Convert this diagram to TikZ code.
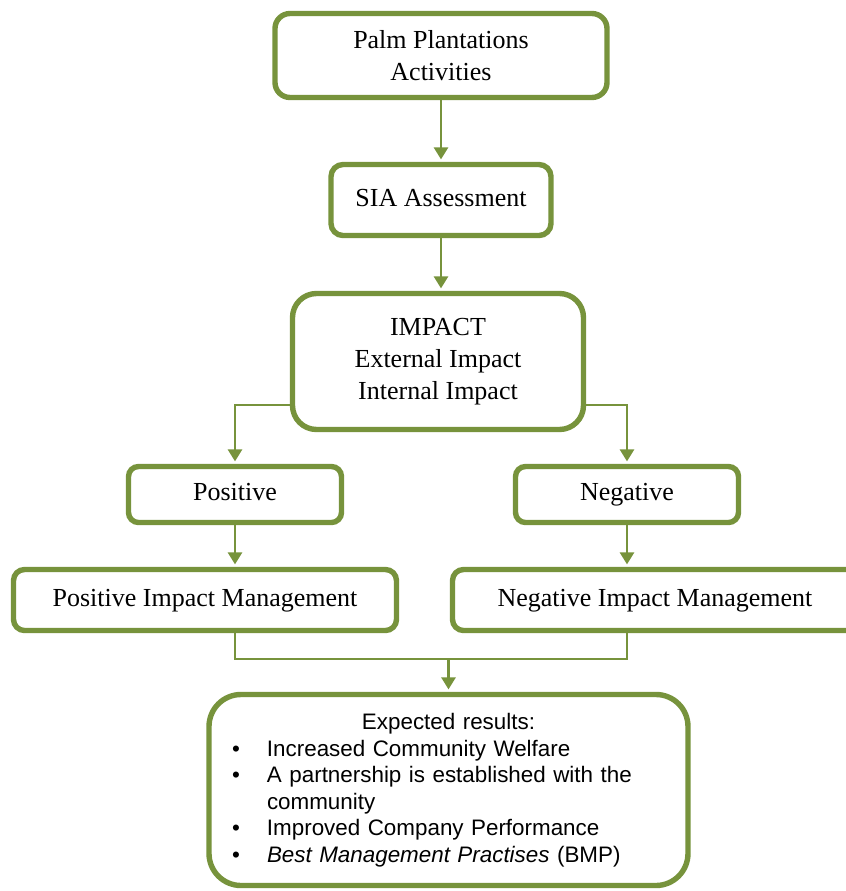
\documentclass[tikz,border=0pt]{standalone}
\usepackage{fontspec}
\setmainfont{Liberation Serif}
\newfontfamily\arialfont{Liberation Sans}
\usetikzlibrary{positioning,arrows.meta,calc}
\definecolor{palmgreen}{HTML}{77933C}
\newcommand{\resitem}[1]{\par\hangindent=17.5pt\hangafter=1\noindent
  \makebox[17.5pt][l]{\textbullet}#1}
\tikzset{
  actbox/.style={draw=palmgreen, line width=2.7pt, rounded corners=6pt,
    fill=white, align=center, inner sep=0pt,
    font=\fontsize{13}{16}\selectfont},
  linebox/.style={actbox, text height=9pt, text depth=3pt},
  resbox/.style={actbox, rounded corners=16pt, text width=216.5pt,
    inner xsep=11.5pt, align=left,
    font=\arialfont\fontsize{11.2}{13.25}\selectfont},
  link/.style={-{Triangle[length=6pt, width=7pt]}, draw=palmgreen,
    line width=1.3pt, shorten >=1.2pt},
  wire/.style={draw=palmgreen, line width=1.3pt},
}

\begin{document}
\begin{tikzpicture}[x=0.5pt, y=-0.5pt]
\useasboundingbox (0,0) rectangle (846,891);
\clip (0,0) rectangle (846,891);
% --- activities and assessment ---
\node[actbox, rounded corners=7.5pt, minimum width=166pt, minimum height=42pt] (pal) at (441,55.5) {Palm Plantations\\Activities};
\node[linebox, minimum width=110pt, minimum height=35.5pt] (sia) at (441,200) {SIA Assessment};
\node[actbox, rounded corners=12pt, minimum width=145.5pt, minimum height=68pt] (impact) at (438,361.5) {IMPACT\\External Impact\\Internal Impact};
% --- positive / negative branches ---
\node[linebox, rounded corners=5pt, minimum width=106.5pt, minimum height=28pt] (pos) at (235,494.5) {Positive};
\node[linebox, rounded corners=5pt, minimum width=111.5pt, minimum height=28pt] (neg) at (627,494.5) {Negative};
\node[linebox, rounded corners=5.5pt, minimum width=191.5pt, minimum height=30.5pt] (pim) at (205,600) {Positive Impact Management};
\node[linebox, rounded corners=5.5pt, minimum width=202.5pt, minimum height=30.5pt] (nim) at (655,600) {Negative Impact Management};
% --- expected results ---
\node[resbox, minimum height=95.5pt] (res) at (448.5,790) {%
  {\centering Expected results:\par}
  \resitem{Increased Community Welfare}
  \resitem{A partnership is established with the\newline community}
  \resitem{Improved Company Performance}
  \resitem{\textit{Best Management Practises} (BMP)}\par};
% --- flows ---
\coordinate (ysplit) at (0,405);
\coordinate (ymerge) at (0,659);
\draw[link] (pal) -- (sia);
\draw[link] (sia) -- (sia |- impact.north);
\draw[link] (impact.west |- ysplit) -| (pos.north);
\draw[link] (impact.east |- ysplit) -| (neg.north);
\draw[link] (pos) -- (pos |- pim.north);
\draw[link] (neg) -- (neg |- nim.north);
\draw[wire] (pim.south -| pos) |- (ymerge -| neg) -- (nim.south -| neg);
\draw[link] (res.north |- ymerge) -- (res.north);
\end{tikzpicture}
\end{document}
